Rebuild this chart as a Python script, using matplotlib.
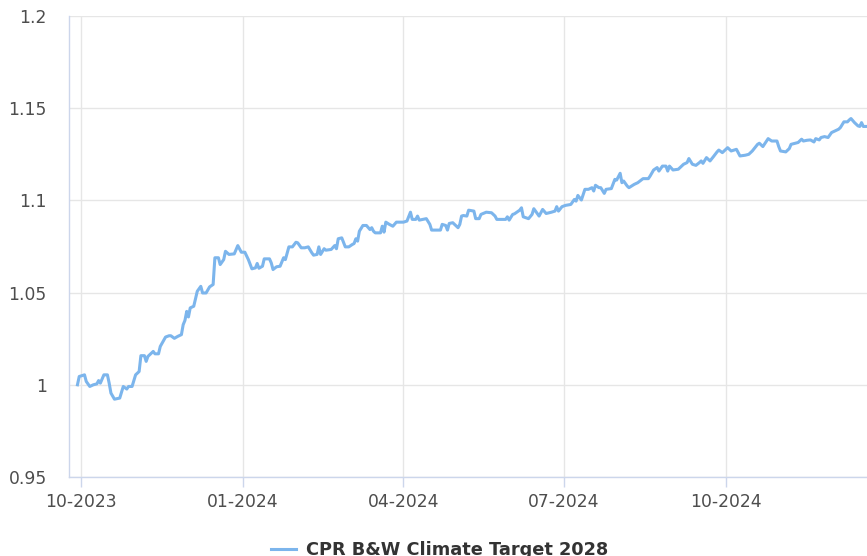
import numpy as np
import pandas as pd
import matplotlib
matplotlib.use('Agg')
import matplotlib.pyplot as plt
import matplotlib.dates as mdates

# Colours
LINE_COLOR = '#7cb5ec'
GRID_COLOR = '#e6e6e6'
AXIS_COLOR = '#ccd6eb'
LABEL_COLOR = '#4d4d4d'

SERIES_NAME = 'CPR B&W Climate Target 2028'

dates = [
    '2023-09-29', '2023-09-30', '2023-10-03', '2023-10-04', '2023-10-06', '2023-10-08',
    '2023-10-10', '2023-10-11', '2023-10-12', '2023-10-14', '2023-10-16', '2023-10-17',
    '2023-10-18', '2023-10-20', '2023-10-23', '2023-10-25', '2023-10-27', '2023-10-28',
    '2023-10-30', '2023-11-01', '2023-11-03', '2023-11-04', '2023-11-06', '2023-11-07',
    '2023-11-08', '2023-11-09', '2023-11-11', '2023-11-12', '2023-11-14', '2023-11-15',
    '2023-11-18', '2023-11-20', '2023-11-21', '2023-11-23', '2023-11-25', '2023-11-27',
    '2023-11-28', '2023-11-29', '2023-11-30', '2023-12-01', '2023-12-02', '2023-12-04',
    '2023-12-06', '2023-12-08', '2023-12-09', '2023-12-11', '2023-12-13', '2023-12-15',
    '2023-12-16', '2023-12-18', '2023-12-19', '2023-12-21', '2023-12-22', '2023-12-24',
    '2023-12-27', '2023-12-29', '2023-12-31', '2024-01-02', '2024-01-04', '2024-01-06',
    '2024-01-08', '2024-01-09', '2024-01-10', '2024-01-12', '2024-01-13', '2024-01-16',
    '2024-01-17', '2024-01-18', '2024-01-20', '2024-01-22', '2024-01-24', '2024-01-25',
    '2024-01-27', '2024-01-29', '2024-01-31', '2024-02-01', '2024-02-03', '2024-02-05',
    '2024-02-07', '2024-02-09', '2024-02-10', '2024-02-12', '2024-02-13', '2024-02-14',
    '2024-02-16', '2024-02-17', '2024-02-20', '2024-02-22', '2024-02-23', '2024-02-24',
    '2024-02-26', '2024-02-28', '2024-03-01', '2024-03-03', '2024-03-04', '2024-03-05',
    '2024-03-06', '2024-03-07', '2024-03-09', '2024-03-11', '2024-03-13', '2024-03-14',
    '2024-03-15', '2024-03-16', '2024-03-19', '2024-03-20', '2024-03-21', '2024-03-22',
    '2024-03-24', '2024-03-26', '2024-03-28', '2024-04-01', '2024-04-03', '2024-04-05',
    '2024-04-06', '2024-04-08', '2024-04-09', '2024-04-10', '2024-04-14', '2024-04-16',
    '2024-04-17', '2024-04-22', '2024-04-23', '2024-04-25', '2024-04-26', '2024-04-27',
    '2024-04-29', '2024-05-02', '2024-05-03', '2024-05-04', '2024-05-05', '2024-05-07',
    '2024-05-08', '2024-05-11', '2024-05-12', '2024-05-14', '2024-05-15', '2024-05-18',
    '2024-05-21', '2024-05-23', '2024-05-24', '2024-05-29', '2024-05-30', '2024-05-31',
    '2024-06-02', '2024-06-03', '2024-06-06', '2024-06-07', '2024-06-08', '2024-06-11',
    '2024-06-13', '2024-06-14', '2024-06-16', '2024-06-17', '2024-06-19', '2024-06-21',
    '2024-06-24', '2024-06-26', '2024-06-27', '2024-06-28', '2024-06-30', '2024-07-02',
    '2024-07-05', '2024-07-07', '2024-07-08', '2024-07-09', '2024-07-11', '2024-07-13',
    '2024-07-15', '2024-07-17', '2024-07-18', '2024-07-19', '2024-07-21', '2024-07-22',
    '2024-07-24', '2024-07-25', '2024-07-28', '2024-07-30', '2024-07-31', '2024-08-02',
    '2024-08-03', '2024-08-04', '2024-08-06', '2024-08-07', '2024-08-10', '2024-08-12',
    '2024-08-15', '2024-08-18', '2024-08-19', '2024-08-21', '2024-08-23', '2024-08-24',
    '2024-08-26', '2024-08-28', '2024-08-29', '2024-08-30', '2024-09-01', '2024-09-04',
    '2024-09-07', '2024-09-09', '2024-09-10', '2024-09-12', '2024-09-14', '2024-09-16',
    '2024-09-17', '2024-09-18', '2024-09-20', '2024-09-22', '2024-09-24', '2024-09-26',
    '2024-09-27', '2024-09-29', '2024-09-30', '2024-10-02', '2024-10-04', '2024-10-07',
    '2024-10-08', '2024-10-09', '2024-10-12', '2024-10-14', '2024-10-16', '2024-10-19',
    '2024-10-20', '2024-10-22', '2024-10-25', '2024-10-27', '2024-10-30', '2024-10-31',
    '2024-11-01', '2024-11-04', '2024-11-06', '2024-11-07', '2024-11-11', '2024-11-13',
    '2024-11-14', '2024-11-16', '2024-11-18', '2024-11-20', '2024-11-21', '2024-11-23',
    '2024-11-24', '2024-11-26', '2024-11-28', '2024-11-30', '2024-12-02', '2024-12-04',
    '2024-12-05', '2024-12-07', '2024-12-09', '2024-12-10', '2024-12-11', '2024-12-13',
    '2024-12-15', '2024-12-16', '2024-12-17', '2024-12-18', '2024-12-20',
]

values = [
    1.0000, 1.0045, 1.0054, 1.0018, 0.9991, 1.0000,
    1.0005, 1.0023, 1.0009, 1.0054, 1.0054, 1.0009,
    0.9955, 0.9922, 0.9928, 0.9991, 0.9977, 0.9991,
    0.9991, 1.0054, 1.0072, 1.0158, 1.0158, 1.0127,
    1.0154, 1.0163, 1.0181, 1.0168, 1.0168, 1.0208,
    1.0259, 1.0266, 1.0266, 1.0252, 1.0263, 1.0272,
    1.0326, 1.0349, 1.0398, 1.0368, 1.0417, 1.0426,
    1.0507, 1.0534, 1.0498, 1.0498, 1.0531, 1.0544,
    1.0689, 1.0689, 1.0652, 1.0679, 1.0724, 1.0707,
    1.0710, 1.0755, 1.0719, 1.0719, 1.0679, 1.0629,
    1.0634, 1.0658, 1.0632, 1.0643, 1.0683, 1.0683,
    1.0661, 1.0625, 1.0640, 1.0643, 1.0689, 1.0679,
    1.0748, 1.0748, 1.0773, 1.0770, 1.0743, 1.0743,
    1.0748, 1.0716, 1.0703, 1.0707, 1.0748, 1.0707,
    1.0738, 1.0730, 1.0734, 1.0755, 1.0738, 1.0792,
    1.0797, 1.0748, 1.0748, 1.0761, 1.0766, 1.0792,
    1.0779, 1.0833, 1.0864, 1.0864, 1.0842, 1.0852,
    1.0833, 1.0824, 1.0824, 1.0860, 1.0828, 1.0882,
    1.0870, 1.0860, 1.0882, 1.0882, 1.0888, 1.0936,
    1.0897, 1.0897, 1.0915, 1.0893, 1.0901, 1.0870,
    1.0839, 1.0839, 1.0870, 1.0864, 1.0839, 1.0875,
    1.0879, 1.0852, 1.0870, 1.0915, 1.0918, 1.0915,
    1.0947, 1.0942, 1.0901, 1.0901, 1.0924, 1.0936,
    1.0933, 1.0915, 1.0897, 1.0897, 1.0911, 1.0893,
    1.0924, 1.0927, 1.0947, 1.0960, 1.0911, 1.0901,
    1.0924, 1.0955, 1.0929, 1.0915, 1.0951, 1.0929,
    1.0936, 1.0942, 1.0966, 1.0942, 1.0966, 1.0973,
    1.0978, 1.1005, 1.0996, 1.1027, 1.1002, 1.1060,
    1.1060, 1.1069, 1.1051, 1.1082, 1.1069, 1.1069,
    1.1038, 1.1060, 1.1064, 1.1114, 1.1110, 1.1147,
    1.1096, 1.1105, 1.1078, 1.1069, 1.1087, 1.1096,
    1.1118, 1.1118, 1.1132, 1.1165, 1.1178, 1.1159,
    1.1186, 1.1186, 1.1159, 1.1186, 1.1165, 1.1169,
    1.1196, 1.1205, 1.1227, 1.1196, 1.1190, 1.1205,
    1.1214, 1.1201, 1.1232, 1.1214, 1.1238, 1.1263,
    1.1273, 1.1259, 1.1268, 1.1286, 1.1268, 1.1277,
    1.1259, 1.1241, 1.1245, 1.1250, 1.1268, 1.1304,
    1.1310, 1.1292, 1.1335, 1.1322, 1.1322, 1.1292,
    1.1268, 1.1263, 1.1281, 1.1304, 1.1314, 1.1332,
    1.1322, 1.1326, 1.1328, 1.1317, 1.1335, 1.1328,
    1.1341, 1.1346, 1.1341, 1.1368, 1.1377, 1.1386,
    1.1395, 1.1426, 1.1426, 1.1436, 1.1444, 1.1422,
    1.1404, 1.1401, 1.1422, 1.1401, 1.1401,
]

x_ticks = ['2023-10-01', '2024-01-01', '2024-04-01', '2024-07-01', '2024-10-01']
y_ticks = [0.95, 1.0, 1.05, 1.1, 1.15, 1.2]
y_tick_labels = ['0.95', '1', '1.05', '1.1', '1.15', '1.2']


def main():
    x = pd.to_datetime(dates)

    fig = plt.figure(figsize=(8.67, 5.56), dpi=100)
    fig.patch.set_facecolor('white')
    ax = fig.add_axes([69 / 867, 1 - 477 / 556, 1 - 69 / 867, (477 - 16) / 556])

    line, = ax.plot(x, values, color=LINE_COLOR, linewidth=2.2,
                    solid_joinstyle='round', label=SERIES_NAME, zorder=3)

    ax.set_ylim(0.95, 1.2)
    ax.set_xlim(pd.Timestamp('2023-10-01') - pd.Timedelta(days=6.8),
                pd.Timestamp('2023-10-01') + pd.Timedelta(days=446.1))

    ax.set_yticks(y_ticks)
    ax.set_yticklabels(y_tick_labels)
    ax.set_xticks(pd.to_datetime(x_ticks))
    ax.xaxis.set_major_formatter(mdates.DateFormatter('%m-%Y'))

    ax.grid(True, color=GRID_COLOR, linewidth=1.0, zorder=0)
    ax.set_axisbelow(True)

    for side in ['top', 'right']:
        ax.spines[side].set_visible(False)
    for side in ['left', 'bottom']:
        ax.spines[side].set_color(AXIS_COLOR)
        ax.spines[side].set_linewidth(1.0)

    ax.tick_params(axis='y', length=0, pad=16, labelsize=12.3, labelcolor=LABEL_COLOR)
    ax.tick_params(axis='x', length=7.5, width=1, color=AXIS_COLOR, pad=4,
                   labelsize=12.3, labelcolor=LABEL_COLOR)

    # Legend sits at the very bottom edge, as in the original
    leg = fig.legend(handles=[line], loc='center',
                     bbox_to_anchor=(0.5 + 6 / 867, 1 - 550 / 556),
                     frameon=False, handlelength=1.4, handletextpad=0.55,
                     prop={'weight': 'bold', 'size': 12.8})
    for t in leg.get_texts():
        t.set_color('#333333')

    fig.savefig('out.png', dpi=100, facecolor='white')
    plt.close(fig)


if __name__ == '__main__':
    main()
